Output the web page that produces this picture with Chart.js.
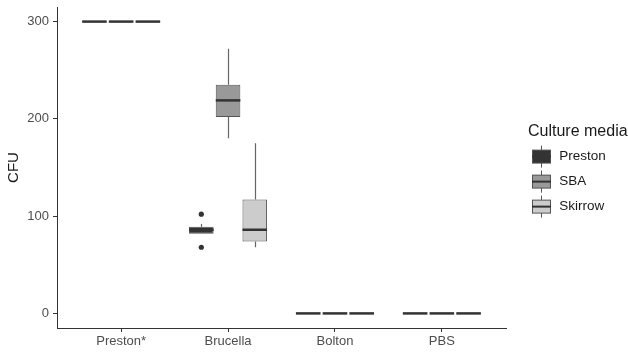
<!DOCTYPE html>
<html>
<head>
<meta charset="utf-8">
<script src="https://cdn.jsdelivr.net/npm/chart.js@4"></script>
<style>
  html, body { margin: 0; padding: 0; background: #fff; }
  #wrap { width: 628px; height: 355px; }
</style>
</head>
<body>
<div id="wrap"><canvas id="chart"></canvas></div>
<script>
// categories on the x axis
const categories = ['Preston*', 'Brucella', 'Bolton', 'PBS'];
const seriesNames = ['Preston', 'SBA', 'Skirrow'];
const seriesColors = ['#333333', '#999999', '#cccccc'];

// five number summaries per category: [min, q1, median, q3, max]
const prestonStats = [[300, 300, 300, 300, 300], [82, 82, 86, 89, 92], [0, 0, 0, 0, 0], [0, 0, 0, 0, 0]];
const sbaStats = [[300, 300, 300, 300, 300], [180, 202, 219, 235, 272], [0, 0, 0, 0, 0], [0, 0, 0, 0, 0]];
const skirrowStats = [[300, 300, 300, 300, 300], [68, 74, 86, 117, 175], [0, 0, 0, 0, 0], [0, 0, 0, 0, 0]];
const allStats = [prestonStats, sbaStats, skirrowStats];

// outliers per category
const prestonOutliers = [[], [102, 68], [], []];
const sbaOutliers = [[], [], [], []];
const skirrowOutliers = [[], [], [], []];
const allOutliers = [prestonOutliers, sbaOutliers, skirrowOutliers];

const yTicks = [0, 100, 200, 300];

const lineCol = '#555555';
const font = 'Liberation Sans, Arial, sans-serif';

// legend key: small box with whisker stubs (right part left blank for spacing)
function keyIcon(fill) {
    const c = document.createElement('canvas');
    c.width = 28; c.height = 24;
    const g = c.getContext('2d');
    g.strokeStyle = lineCol; g.lineWidth = 1;
    g.beginPath(); g.moveTo(9.5, 1); g.lineTo(9.5, 23); g.stroke();
    g.fillStyle = fill;
    g.fillRect(0, 5, 19, 14);
    g.strokeRect(0.5, 5.5, 18, 13);
    g.strokeStyle = '#333333'; g.lineWidth = 2;
    g.beginPath(); g.moveTo(0, 12); g.lineTo(19, 12); g.stroke();
    return c;
}

const boxPlugin = {
    id: 'boxes',
    afterInit(chart) {
        const lg = chart.legend;
        const fit = lg.fit;
        lg.fit = function () { fit.call(this); this.width = 122; };
    },
    afterLayout(chart) {
        const lg = chart.legend;
        lg.left += 22; lg.right += 22;
        lg.top -= 7; lg.bottom -= 7;
    },
    beforeDatasetsDraw(chart) {
        const ctx = chart.ctx, y = chart.scales.y;
        ctx.save();
        ctx.strokeStyle = '#666666';
        ctx.lineWidth = 1.2;
        allStats.forEach((stats, d) => {
            chart.getDatasetMeta(d).data.forEach((bar, i) => {
                const s = stats[i];
                const x = Math.round(bar.x) + 0.5;
                ctx.beginPath();
                ctx.moveTo(x, y.getPixelForValue(s[4]));
                ctx.lineTo(x, y.getPixelForValue(s[3]));
                ctx.moveTo(x, y.getPixelForValue(s[1]));
                ctx.lineTo(x, y.getPixelForValue(s[0]));
                ctx.stroke();
            });
        });
        ctx.restore();
    },
    afterDatasetsDraw(chart) {
        const ctx = chart.ctx, y = chart.scales.y;
        ctx.save();
        allStats.forEach((stats, d) => {
            chart.getDatasetMeta(d).data.forEach((bar, i) => {
                const s = stats[i];
                const w = bar.width;
                ctx.strokeStyle = '#333333';
                ctx.lineWidth = 2.5;
                ctx.beginPath();
                ctx.moveTo(bar.x - w / 2, y.getPixelForValue(s[2]));
                ctx.lineTo(bar.x + w / 2, y.getPixelForValue(s[2]));
                ctx.stroke();
                ctx.fillStyle = '#333333';
                allOutliers[d][i].forEach(v => {
                    ctx.beginPath();
                    ctx.arc(bar.x, y.getPixelForValue(v), 2.6, 0, Math.PI * 2);
                    ctx.fill();
                });
            });
        });
        ctx.restore();
    }
};

const ctx = document.querySelector('#chart').getContext('2d');
const chart = new Chart(ctx, {
    type: 'bar',
    data: {
        datasets: allStats.map((stats, d) => ({
            label: seriesNames[d],
            data: stats.map((s, i) => ({ x: i + 1, y: [s[1], s[3]] })),
            backgroundColor: seriesColors[d],
            borderColor: lineCol,
            borderWidth: 1,
            borderSkipped: false,
            categoryPercentage: 0.75,
            barPercentage: 0.92
        }))
    },
    options: {
        responsive: true,
        maintainAspectRatio: false,
        animation: false,
        layout: { padding: { top: 7, left: 0, right: 0, bottom: 0 } },
        scales: {
            x: {
                type: 'linear',
                min: 0.4,
                max: 4.6,
                offset: false,
                afterBuildTicks: s => { s.ticks = categories.map((c, i) => ({ value: i + 1 })); },
                afterFit: s => { s.height = 27; s.paddingLeft = 0; s.paddingRight = 0; },
                ticks: {
                    callback: v => categories[v - 1],
                    color: '#4d4d4d',
                    font: { family: font, size: 13 },
                    padding: 2,
                    maxRotation: 0,
                    autoSkip: false
                },
                grid: { offset: false, drawOnChartArea: false, drawTicks: true, tickLength: 4, color: '#333333' },
                border: { display: true, color: '#333333', width: 1 }
            },
            y: {
                min: -15,
                max: 315,
                afterBuildTicks: s => { s.ticks = yTicks.map(v => ({ value: v })); },
                afterFit: s => { s.width = 57; s.paddingTop = 0; s.paddingBottom = 0; },
                ticks: {
                    color: '#4d4d4d',
                    font: { family: font, size: 13 },
                    padding: 4
                },
                grid: { drawOnChartArea: false, drawTicks: true, tickLength: 4, color: '#333333' },
                border: { display: true, color: '#333333', width: 1 },
                title: {
                    display: true,
                    text: 'CFU',
                    color: '#1a1a1a',
                    font: { family: font, size: 15 },
                    padding: { top: 5, bottom: 0 }
                }
            }
        },
        plugins: {
            tooltip: { enabled: false },
            legend: {
                position: 'right',
                align: 'center',
                title: {
                    display: true,
                    text: 'Culture media',
                    color: '#1a1a1a',
                    font: { family: font, size: 16 },
                    position: 'start',
                    padding: { top: 0, bottom: -4 }
                },
                labels: {
                    usePointStyle: true,
                    pointStyleWidth: 13,
                    color: '#1a1a1a',
                    font: { family: font, size: 13.5 },
                    padding: 11.5,
                    generateLabels: () => seriesNames.map((n, d) => ({
                        text: n,
                        pointStyle: keyIcon(seriesColors[d]),
                        fillStyle: seriesColors[d],
                        strokeStyle: lineCol,
                        lineWidth: 0,
                        datasetIndex: d,
                        fontColor: '#1a1a1a'
                    }))
                }
            }
        }
    },
    plugins: [boxPlugin]
});
</script>
</body>
</html>
